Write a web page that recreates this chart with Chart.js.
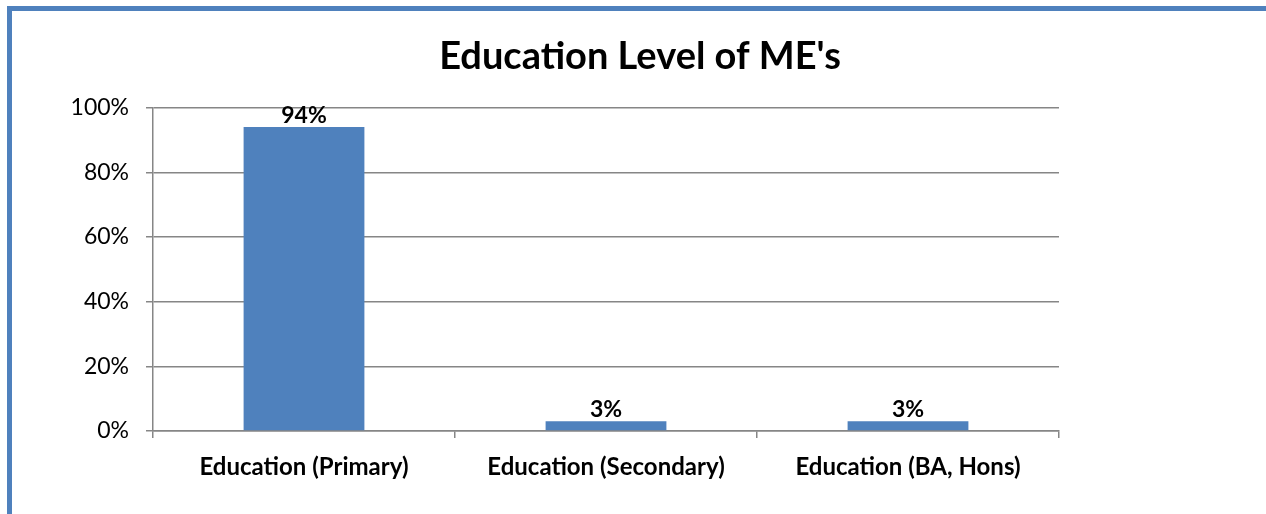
<!DOCTYPE html>
<html>
<head>
<meta charset="utf-8">
<script src="https://cdn.jsdelivr.net/npm/chart.js@4"></script>
<style>
  html, body { margin: 0; padding: 0; background: #fff; }
  #wrap { position: relative; width: 1266px; height: 514px; overflow: hidden; }
  #frame { position: absolute; left: 7px; top: 6px; width: 1400px; height: 600px;
           border-top: 5px solid #4F81BD; border-left: 5px solid #4F81BD; }
  canvas { position: absolute; left: 0; top: 0; }
</style>
</head>
<body>
<div id="wrap">
  <div id="frame"></div>
  <canvas id="chart" width="1266" height="514"></canvas>
</div>
<script>
const categories = ['Education (Primary)', 'Education (Secondary)', 'Education (BA, Hons)'];
const shares = [94, 3, 3];
const yTicks = [0, 20, 40, 60, 80, 100];

const FONT = 'Lato, "Open Sans", sans-serif';

// percentage labels above each bar
const barLabels = {
    id: 'barLabels',
    afterDatasetsDraw(chart) {
        const ctx = chart.ctx;
        const meta = chart.getDatasetMeta(0);
        ctx.save();
        ctx.font = 'bold 23px ' + FONT;
        ctx.fillStyle = '#000';
        ctx.textAlign = 'center';
        ctx.textBaseline = 'alphabetic';
        meta.data.forEach((bar, i) => {
            ctx.fillText(shares[i] + '%', bar.x, bar.y - 4);
        });
        ctx.restore();
    }
};

new Chart(document.getElementById('chart'), {
    type: 'bar',
    data: {
        labels: categories,
        datasets: [{
            data: shares,
            backgroundColor: '#4F81BD',
            barPercentage: 0.4,
            categoryPercentage: 1
        }]
    },
    options: {
        responsive: false,
        animation: false,
        layout: { padding: { left: 14, right: 0, top: 0, bottom: 0 } },
        plugins: {
            legend: { display: false },
            tooltip: { enabled: false },
            title: {
                display: true,
                text: "Education Level of ME's",
                color: '#000',
                font: { family: FONT, size: 38, weight: 'bold' },
                padding: { top: 34, bottom: 28 }
            }
        },
        scales: {
            y: {
                min: 0,
                max: 100,
                afterBuildTicks: scale => { scale.ticks = yTicks.map(v => ({ value: v })); },
                afterFit: scale => { scale.width = 139; },
                ticks: {
                    color: '#000',
                    font: { family: FONT, size: 23 },
                    padding: 17,
                    callback: v => v + '%'
                },
                grid: { color: '#868686', lineWidth: 1.5, tickLength: 7 },
                border: { color: '#868686', width: 1.5 }
            },
            // empty right-hand space of the plot
            spacer: {
                position: 'right',
                afterFit: scale => { scale.width = 207; },
                ticks: { display: false },
                grid: { display: false, drawOnChartArea: false },
                border: { display: false }
            },
            x: {
                afterFit: scale => { scale.height = 83; },
                ticks: {
                    color: '#000',
                    font: { family: FONT, size: 24, weight: 'bold' },
                    padding: 15,
                    maxRotation: 0
                },
                grid: { drawOnChartArea: false, color: '#868686', lineWidth: 1.5, tickLength: 7 },
                border: { color: '#868686', width: 1.5 }
            }
        }
    },
    plugins: [barLabels]
});
</script>
</body>
</html>
